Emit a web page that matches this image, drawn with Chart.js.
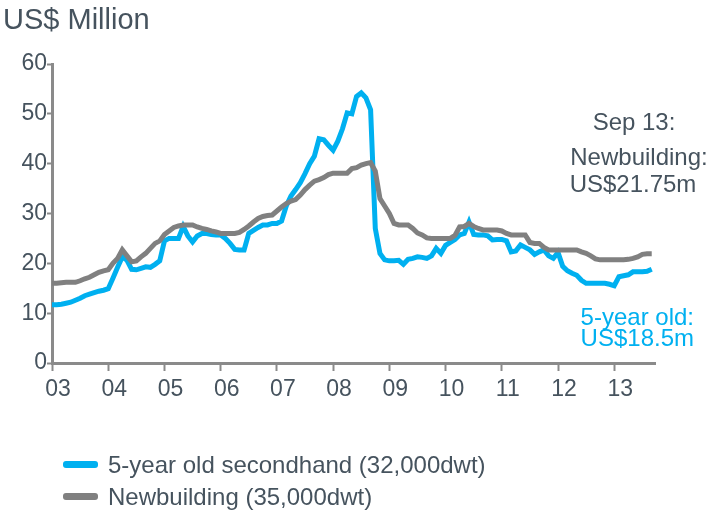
<!DOCTYPE html>
<html>
<head>
<meta charset="utf-8">
<script src="https://cdn.jsdelivr.net/npm/chart.js@4.4.0/dist/chart.umd.min.js"></script>
<style>
  html, body { margin: 0; padding: 0; background: #fff; }
  #wrap { position: relative; width: 724px; height: 511px; font-family: "Liberation Sans", Arial, sans-serif; color: #46535e; }
  #myChart { position: absolute; left: 0; top: 0; }
  .txt { position: absolute; white-space: nowrap; font-size: 24px; line-height: 1; }
  .mid { transform: translateX(-50%); }
  .blue { color: #00b0f0; right: 30px; text-align: right; }
  .lg { position: absolute; left: 63px; font-size: 24px; line-height: 1; white-space: nowrap; }
  .lg span { display: inline-block; width: 35px; height: 7px; border-radius: 3px; vertical-align: middle; margin-right: 10px; position: relative; top: -2px; }
</style>
</head>
<body>
<div id="wrap">
  <canvas id="myChart" width="724" height="511"></canvas>
  <div class="txt" style="left:3px; top:5px; font-size:29px;">US$ Million</div>
  <div class="txt mid" style="left:634px; top:110px;">Sep 13:</div>
  <div class="txt mid" style="left:639px; top:145px;">Newbuilding:</div>
  <div class="txt mid" style="left:633px; top:172px;">US$21.75m</div>
  <div class="txt blue" style="top:305px;">5-year old:</div>
  <div class="txt blue" style="top:326px;">US$18.5m</div>
  <div class="lg" style="top:453px;"><span style="background:#00b0f0"></span>5-year old secondhand (32,000dwt)</div>
  <div class="lg" style="top:485px;"><span style="background:#808080"></span>Newbuilding (35,000dwt)</div>
</div>
<script>
// monthly values, Jan 2003 - Sep 2013 (US$ million)
const yearLabels = ['03', '04', '05', '06', '07', '08', '09', '10', '11', '12', '13'];

const secondhand = [
    11.7, 11.7, 11.8, 12.0, 12.2, 12.6, 13.0, 13.5, 13.8, 14.1, 14.4, 14.6,
    14.9, 17.0, 19.2, 21.3, 20.6, 18.8, 18.7, 19.0, 19.3, 19.2, 19.8, 20.5,
    24.5, 25.0, 25.0, 25.0, 27.4, 25.5, 24.3, 25.5, 26.0, 26.0, 25.8, 25.7,
    25.7, 25.0, 24.0, 22.8, 22.7, 22.7, 26.0, 26.6, 27.2, 27.7, 27.7, 28.0,
    28.0, 28.5, 31.5, 33.5, 34.8, 36.2, 38.0, 40.0, 41.5, 45.0, 44.8, 43.7,
    42.7, 44.5, 47.0, 50.2, 50.0, 53.5, 54.2, 53.2, 50.8, 27.0, 22.0, 20.7,
    20.5, 20.5, 20.6, 19.8, 20.8, 21.0, 21.3, 21.2, 21.0, 21.5, 23.0, 22.0,
    23.6, 24.2, 24.8, 25.7, 26.0, 28.3, 25.8, 25.7, 25.7, 25.5, 24.7, 24.8,
    24.8, 24.5, 22.3, 22.5, 23.7, 23.2, 22.7, 21.8, 22.3, 22.7, 21.5, 21.0,
    22.2, 19.4, 18.5, 18.0, 17.6, 16.6, 16.0, 16.0, 16.0, 16.0, 16.0, 15.8,
    15.5, 17.3, 17.5, 17.7, 18.3, 18.3, 18.3, 18.4, 18.8
];

const newbuilding = [
    16.0, 16.0, 16.1, 16.2, 16.2, 16.2, 16.5, 16.9, 17.2, 17.7, 18.2, 18.5,
    18.7, 20.0, 21.0, 22.7, 21.5, 20.3, 20.5, 21.3, 22.0, 23.0, 24.0, 24.5,
    25.8, 26.5, 27.2, 27.5, 27.7, 27.7, 27.7, 27.3, 27.0, 26.8, 26.5, 26.3,
    26.0, 26.0, 26.0, 26.0, 26.2, 26.8, 27.5, 28.3, 29.0, 29.4, 29.6, 29.7,
    30.5, 31.3, 32.0, 32.5, 32.8, 33.7, 34.8, 35.7, 36.5, 36.8, 37.2, 37.8,
    38.1, 38.1, 38.1, 38.1, 39.0, 39.2, 39.7, 40.0, 40.2, 38.5, 33.0, 31.5,
    30.0, 28.0, 27.7, 27.7, 27.7, 27.0, 26.1, 25.7, 25.1, 25.0, 25.0, 25.0,
    25.0, 25.0, 25.6, 27.3, 27.4, 28.0, 27.4, 27.0, 26.7, 26.7, 26.7, 26.7,
    26.5, 26.0, 25.7, 25.7, 25.7, 25.7, 24.2, 24.0, 24.0, 23.2, 22.7, 22.7,
    22.7, 22.7, 22.7, 22.7, 22.7, 22.3, 22.0, 21.5, 20.9, 20.7, 20.7, 20.7,
    20.7, 20.7, 20.7, 20.8, 21.0, 21.3, 21.8, 21.9, 21.9
];

const axisColor = '#8a8a8a';
const textColor = '#46535e';

const toPoints = (arr) => arr.map((v, i) => ({ x: i, y: v }));

const displayGraph = () => {

    const data = {
        datasets: [
            {
                label: 'Newbuilding (35,000dwt)',
                data: toPoints(newbuilding),
                borderColor: '#808080',
                borderWidth: 5,
                pointRadius: 0,
                tension: 0
            },
            {
                label: '5-year old secondhand (32,000dwt)',
                data: toPoints(secondhand),
                borderColor: '#00b0f0',
                borderWidth: 5,
                pointRadius: 0,
                tension: 0
            }
        ]
    };//data

    const config = {
        type: 'line',
        data: data,
        options: {
            responsive: false,
            animation: false,
            layout: {
                padding: { left: 0, top: 64, right: 69, bottom: 100 }
            },
            plugins: {
                legend: { display: false },
                tooltip: { enabled: false }
            },
            scales: {
                x: {
                    type: 'linear',
                    min: 0,
                    max: 128.7,
                    afterBuildTicks: axis => {
                        axis.ticks = yearLabels.map((l, i) => ({ value: i * 12 }));
                    },
                    afterFit: axis => { axis.height = 48; },
                    border: { color: axisColor, width: 3 },
                    grid: { drawOnChartArea: false, drawTicks: true, tickLength: 8, tickColor: axisColor, tickWidth: 2 },
                    ticks: {
                        autoSkip: false,
                        maxRotation: 0,
                        labelOffset: 6,
                        padding: 5,
                        color: textColor,
                        font: { family: 'Liberation Sans', size: 23 },
                        callback: value => yearLabels[Math.round(value / 12)]
                    }
                },
                y: {
                    min: 0,
                    max: 60,
                    afterFit: axis => { axis.width = 52; },
                    border: { color: axisColor, width: 3 },
                    grid: { drawOnChartArea: false, drawTicks: true, tickLength: 5, tickColor: axisColor, tickWidth: 2 },
                    ticks: {
                        stepSize: 10,
                        padding: 0,
                        color: textColor,
                        font: { family: 'Liberation Sans', size: 23 }
                    }
                }
            }
        }//options
    };//config

    const myChart = new Chart(
        document.getElementById('myChart'),
        config
    );
}

displayGraph();
</script>
</body>
</html>
